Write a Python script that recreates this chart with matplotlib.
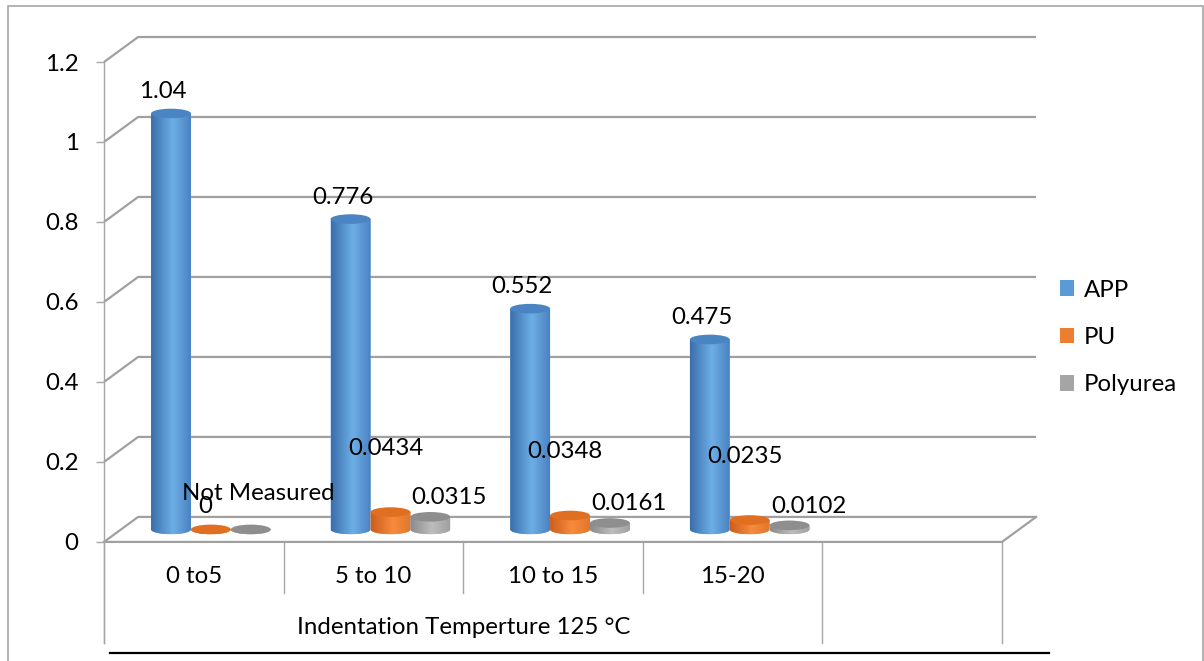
import numpy as np
import matplotlib
matplotlib.use("Agg")
import matplotlib.pyplot as plt
from matplotlib.patches import Ellipse, PathPatch, Rectangle, Patch
from matplotlib.path import Path
from matplotlib.colors import LinearSegmentedColormap

# ---- data -------------------------------------------------------------
categories = ["0 to5", "5 to 10", "10 to 15", "15-20", ""]
group_label = "Indentation Temperture 125 °C"
series_names = ["APP", "PU", "Polyurea"]
app = [1.04, 0.776, 0.552, 0.475]
pu = [0.0, 0.0434, 0.0348, 0.0235]
polyurea = [0.0, 0.0315, 0.0161, 0.0102]
app_labels = ["1.04", "0.776", "0.552", "0.475"]
pu_labels = ["0", "0.0434", "0.0348", "0.0235"]
polyurea_labels = ["Not Measured", "0.0315", "0.0161", "0.0102"]
y_ticks = [0, 0.2, 0.4, 0.6, 0.8, 1.0, 1.2]
y_tick_labels = ["0", "0.2", "0.4", "0.6", "0.8", "1", "1.2"]

# ---- style ------------------------------------------------------------
plt.rcParams["font.family"] = ["Lato", "DejaVu Sans"]
FS = 17.3
GRID = "#A0A0A0"
AXIS = "#A6A6A6"
# (dark edge, highlight, right edge, top face, legend swatch)
PALETTE = {
    "APP": ("#3A6EAB", "#6DAEE6", "#4A82C2", "#4A84C2", "#5B9BD5"),
    "PU": ("#CC5E1C", "#F78B3D", "#E0772B", "#E06F22", "#ED7D31"),
    "Polyurea": ("#8A8A8A", "#BDBDBD", "#A0A0A0", "#8E8E8E", "#A5A5A5"),
}
DEPTH_X = 0.19        # receding offset of the back wall (category units)
DEPTH_Y = 0.0625      # receding offset of the back wall (value units)
BAR_W = 0.222
ELL_H = 0.024
SLOT = [-0.222, 0.0, 0.222]

W, H = 1204, 661
fig = plt.figure(figsize=(W / 100, H / 100), dpi=100)
y_top_px, y_bot_px = 62, 653.9
ax = fig.add_axes([104 / W, 1 - y_bot_px / H, (1002 - 104) / W, (y_bot_px - y_top_px) / H])
ax.set_xlim(-0.5, 4.5)
ax.set_ylim(-0.28, 1.2)
for s in ["top", "right", "bottom"]:
    ax.spines[s].set_visible(False)
ax.spines["left"].set_color(AXIS)
ax.spines["left"].set_linewidth(1.0)
ax.spines["left"].set_bounds(-0.2527, 1.2)
ax.set_xticks([])
ax.set_yticks(y_ticks)
ax.set_yticklabels(y_tick_labels, fontsize=FS)
ax.tick_params(axis="y", length=5.8, width=1.0, color=AXIS, pad=12.5)
ax.patch.set_visible(False)

# ---- perspective walls --------------------------------------------------
x0, x1 = -0.5, 4.5
for v in y_ticks:
    ax.plot([x0, x0 + DEPTH_X, x1 + DEPTH_X], [v, v + DEPTH_Y, v + DEPTH_Y],
            color=GRID, lw=1.6, zorder=1, solid_capstyle="butt", clip_on=False)
ax.plot([x0, x1, x1 + DEPTH_X], [0, 0, DEPTH_Y], color=GRID, lw=1.6, zorder=1,
        clip_on=False)

# ---- category table ----------------------------------------------------
for b in np.arange(-0.5, 5.0, 1.0):
    low = -0.2527 if b in (-0.5, 3.5, 4.5) else -0.1276
    ax.plot([b, b], [0, low], color=AXIS, lw=1.0, zorder=1, clip_on=False)
for i, c in enumerate(categories):
    ax.text(i, -0.0875, c, ha="center", va="center", fontsize=FS)
ax.text(1.5, -0.215, group_label, ha="center", va="center", fontsize=FS)
ax.plot([-0.4666, 4.7617], [-0.2768, -0.2768], color="black", lw=1.6, clip_on=False)


# ---- cylinders --------------------------------------------------------
def cylinder(xc, value, colors, z):
    dark, light, right, topc, _ = colors
    base = DEPTH_Y / 2
    top = value + base
    xl, xr = xc - BAR_W / 2, xc + BAR_W / 2
    t = np.linspace(np.pi, 2 * np.pi, 60)
    verts = [(xl, top), (xl, base)]
    verts += list(zip(xc + BAR_W / 2 * np.cos(t), base + ELL_H / 2 * np.sin(t)))
    verts += [(xr, top), (xl, top)]
    codes = [Path.MOVETO] + [Path.LINETO] * (len(verts) - 2) + [Path.CLOSEPOLY]
    body = PathPatch(Path(verts, codes), facecolor=light, edgecolor="none",
                     zorder=z, transform=ax.transData)
    ax.add_patch(body)
    cmap = LinearSegmentedColormap.from_list(
        "cyl", [(0, dark), (0.55, light), (1.0, right)])
    grad = np.linspace(0, 1, 256).reshape(1, -1)
    im = ax.imshow(grad, extent=[xl, xr, base - ELL_H / 2, top + 1e-6],
                   aspect="auto", cmap=cmap, origin="lower",
                   interpolation="bilinear", zorder=z + 0.01)
    im.set_clip_path(body)
    ax.add_patch(Ellipse((xc, top), BAR_W, ELL_H, facecolor=topc,
                         edgecolor="none", zorder=z + 0.02))
    return top


series_vals = [app, pu, polyurea]
series_lbls = [app_labels, pu_labels, polyurea_labels]
z = 3
tops = {}
for i in range(len(app)):
    for s, name in enumerate(series_names):
        xc = i + SLOT[s] + DEPTH_X / 2
        tops[(i, s)] = (xc, cylinder(xc, series_vals[s][i], PALETTE[name], z))
        z += 0.1

# ---- data labels -------------------------------------------------------
for i in range(len(app)):
    for s, name in enumerate(series_names):
        xc, top = tops[(i, s)]
        text = series_lbls[s][i]
        if name == "APP":
            off = (-8, 22)
        elif name == "PU":
            off = (-5, 64) if series_vals[s][i] > 0 else (-6, 23)
        else:
            off = (19, 19) if series_vals[s][i] > 0 else (8, 36)
        ax.annotate(text, (xc, top), xytext=off, textcoords="offset pixels",
                    ha="center", va="center", fontsize=FS, zorder=20)

ax.set_xlim(-0.5, 4.5)
ax.set_ylim(-0.28, 1.2)

# ---- legend --------------------------------------------------------------
handles = [Patch(facecolor=PALETTE[n][4], edgecolor="none") for n in series_names]
fig.legend(handles, series_names, loc="center left",
           bbox_to_anchor=(1060 / W, 1 - 337.5 / H), frameon=False,
           fontsize=FS, handlelength=0.6, handleheight=0.6,
           handletextpad=0.4, labelspacing=1.1, borderpad=0, borderaxespad=0)

# ---- outer frame -------------------------------------------------------
fig.add_artist(Rectangle((8 / W, -0.05), (1203 - 8) / W, 1 - 6 / H + 0.05,
                         transform=fig.transFigure, fill=False,
                         edgecolor="#A6A6A6", lw=1.2))

fig.savefig("out.png", dpi=100)
